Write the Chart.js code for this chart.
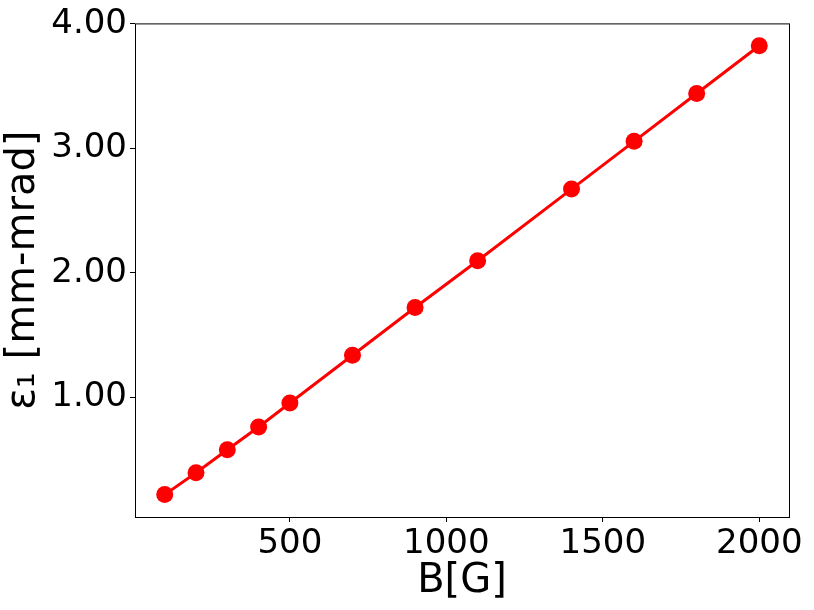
<!DOCTYPE html>
<html>
<head>
<meta charset="utf-8">
<script src="https://cdn.jsdelivr.net/npm/chart.js@4/dist/chart.umd.min.js"></script>
<style>
  html, body { margin: 0; padding: 0; background: #fff; }
  #wrap { width: 814px; height: 610px; }
</style>
</head>
<body>
<div id="wrap"><canvas id="grafico" width="814" height="610"></canvas></div>
<script>
// Dados do gráfico
const campoB = [100, 200, 300, 400, 500, 700, 900, 1100, 1400, 1600, 1800, 2000];
const emitancia = [0.216, 0.392, 0.576, 0.760, 0.952, 1.336, 1.720, 2.096, 2.672, 3.056, 3.440, 3.824];
const ticksX = [500, 1000, 1500, 2000];
const ticksY = [1, 2, 3, 4];

// Área do gráfico (em px) igual à referência
const areaEsq = 135, areaTopo = 22, areaDir = 789, areaBase = 517;

// Moldura em volta da área de plotagem
const moldura = {
  id: 'moldura',
  afterDraw(chart) {
    const { ctx, chartArea: a } = chart;
    ctx.save();
    ctx.strokeStyle = '#000';
    ctx.lineWidth = 1;
    ctx.strokeRect(a.left + 0.5, a.top + 0.5, a.right - a.left, a.bottom - a.top);
    ctx.restore();
  }
};

const ctx = document.getElementById('grafico').getContext('2d');
new Chart(ctx, {
  type: 'line',
  data: {
    datasets: [{
      data: campoB.map((b, i) => ({ x: b, y: emitancia[i] })),
      borderColor: '#ff0000',
      backgroundColor: '#ff0000',
      borderWidth: 3,
      pointRadius: 8.5,
      pointHoverRadius: 8.5,
      pointBorderWidth: 0,
      tension: 0
    }]
  },
  options: {
    responsive: false,
    animation: false,
    layout: { padding: { top: areaTopo, right: 814 - areaDir, left: 0, bottom: 0 } },
    plugins: { legend: { display: false }, tooltip: { enabled: false } },
    scales: {
      x: {
        type: 'linear',
        min: 5,
        max: 2095,
        afterBuildTicks: s => { s.ticks = ticksX.map(v => ({ value: v })); },
        afterFit: s => { s.height = 610 - areaBase; },
        grid: { drawOnChartArea: false, drawTicks: true, tickLength: 5, color: '#000' },
        border: { display: false },
        ticks: { color: '#000', font: { family: 'DejaVu Sans', size: 34 }, padding: 2, maxRotation: 0, callback: v => String(v) },
        title: { display: true, text: 'B[G]', color: '#000', font: { family: 'DejaVu Sans', size: 40 }, padding: { top: 0, bottom: 4 } }
      },
      y: {
        type: 'linear',
        min: 0.036,
        max: 4.004,
        afterBuildTicks: s => { s.ticks = ticksY.map(v => ({ value: v })); },
        afterFit: s => { s.width = areaEsq; },
        grid: { drawOnChartArea: false, drawTicks: true, tickLength: 5, color: '#000' },
        border: { display: false },
        ticks: { color: '#000', font: { family: 'DejaVu Sans', size: 34 }, padding: 3, callback: v => v.toFixed(2) },
        title: { display: true, text: 'ε₁ [mm-mrad]', color: '#000', font: { family: 'DejaVu Sans', size: 40 }, padding: { top: 0, bottom: 0 } }
      }
    }
  },
  plugins: [moldura]
});
</script>
</body>
</html>
